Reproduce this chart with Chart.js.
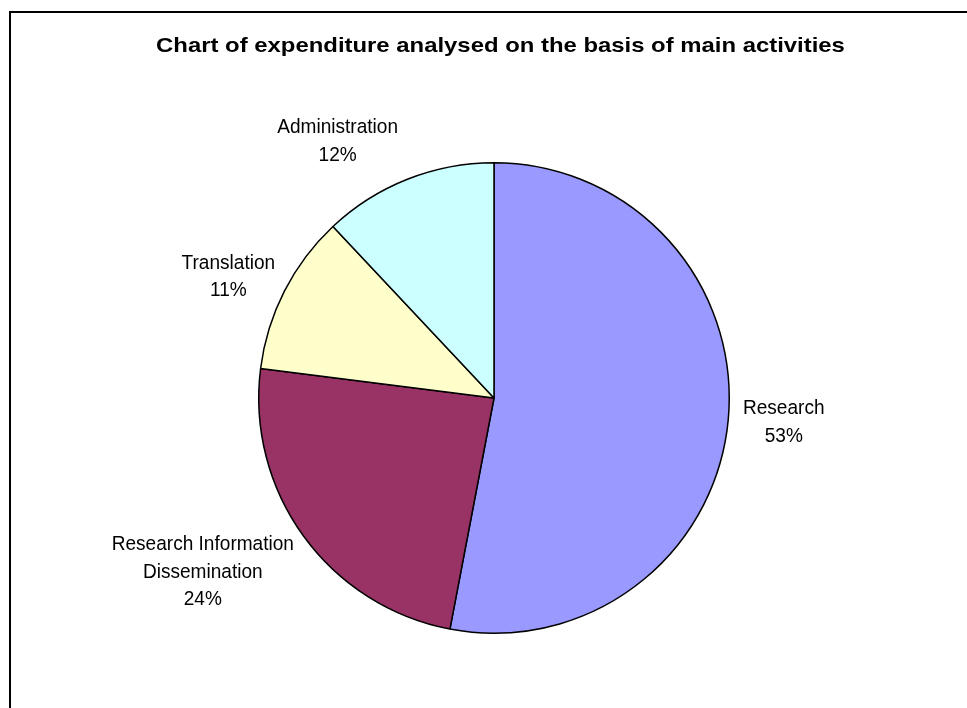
<!DOCTYPE html>
<html>
<head>
<meta charset="utf-8">
<script src="https://cdn.jsdelivr.net/npm/chart.js@4.4.1/dist/chart.umd.min.js"></script>
<style>
  html, body { margin: 0; padding: 0; background: #ffffff; }
  #wrap { width: 967px; height: 708px; position: relative; }
</style>
</head>
<body>
<div id="wrap"><canvas id="c" width="967" height="708"></canvas></div>
<script>
const chartTitle = "Chart of expenditure analysed on the basis of main activities";
const categories = ["Research", "Research Information Dissemination", "Translation", "Administration"];
const values = [53, 24, 11, 12];
const sliceColors = ["#9999FF", "#993366", "#FFFFCC", "#CCFFFF"];

const FONT = "'Liberation Sans', Arial, sans-serif";

const framePlugin = {
  id: 'frame',
  beforeDraw(chart) {
    const ctx = chart.ctx;
    ctx.save();
    ctx.fillStyle = '#ffffff';
    ctx.fillRect(0, 0, chart.width, chart.height);
    ctx.strokeStyle = '#000000';
    ctx.lineWidth = 2;
    ctx.beginPath();
    ctx.moveTo(10, chart.height + 5);
    ctx.lineTo(10, 12);
    ctx.lineTo(chart.width + 5, 12);
    ctx.stroke();
    // title
    ctx.fillStyle = '#000000';
    ctx.font = "bold 20.5px " + FONT;
    ctx.textAlign = 'center';
    ctx.textBaseline = 'alphabetic';
    ctx.translate(500.5, 52.3);
    ctx.scale(1.165, 1);
    ctx.fillText(chartTitle, 0, 0);
    ctx.restore();
  }
};

const labelPlugin = {
  id: 'outLabels',
  afterDatasetsDraw(chart, args, opts) {
    const ctx = chart.ctx;
    const meta = chart.getDatasetMeta(0);
    const ds = chart.data.datasets[0].data;
    const total = ds.reduce((a, b) => a + b, 0);
    const fs = opts.fontSize, sx = opts.scaleX, pitch = opts.lineHeight;
    const capH = 0.716 * fs;
    ctx.save();
    ctx.font = fs + "px " + FONT;
    ctx.fillStyle = '#000000';
    ctx.textAlign = 'center';
    ctx.textBaseline = 'alphabetic';
    meta.data.forEach((arc, i) => {
      const p = arc.getProps(['x', 'y', 'startAngle', 'endAngle', 'outerRadius'], true);
      const mid = (p.startAngle + p.endAngle) / 2;
      const dx = Math.cos(mid), dy = Math.sin(mid);
      const words = chart.data.labels[i].split(' ');
      const lines = [];
      let cur = '';
      words.forEach(w => {
        const t = cur ? cur + ' ' + w : w;
        if (cur && ctx.measureText(t).width * sx > opts.wrapWidth) { lines.push(cur); cur = w; }
        else cur = t;
      });
      if (cur) lines.push(cur);
      lines.push(Math.round(ds[i] / total * 100) + '%');
      const w = Math.max(...lines.map(l => ctx.measureText(l).width * sx));
      const h = (lines.length - 1) * pitch + capH;
      const rr = p.outerRadius + opts.gap;
      const nudge = opts.nudge[i] || [0, 0];
      const cx = p.x + dx * rr + dx * w / 2 + nudge[0];
      const cy = p.y + dy * rr + dy * h / 2 + nudge[1];
      lines.forEach((l, k) => {
        const ly = cy + (k - (lines.length - 1) / 2) * pitch;
        ctx.save();
        ctx.translate(cx, ly + capH / 2);
        ctx.scale(sx, 1);
        ctx.fillText(l, 0, 0);
        ctx.restore();
      });
    });
    ctx.restore();
  }
};

new Chart(document.getElementById('c'), {
  type: 'pie',
  data: {
    labels: categories,
    datasets: [{
      data: values,
      backgroundColor: sliceColors,
      borderColor: '#000000',
      borderWidth: 1.5,
      hoverOffset: 0
    }]
  },
  options: {
    responsive: false,
    animation: false,
    layout: { padding: { left: 258, right: 237, top: 162, bottom: 74 } },
    plugins: {
      legend: { display: false },
      tooltip: { enabled: false },
      title: { display: false },
      outLabels: {
        fontSize: 20.5,
        scaleX: 0.93,
        lineHeight: 27.3,
        gap: 15,
        wrapWidth: 200,
        nudge: [[0, -3], [-15, 5], [-1, 0], [-42, -6]]
      }
    }
  },
  plugins: [framePlugin, labelPlugin]
});
</script>
</body>
</html>
